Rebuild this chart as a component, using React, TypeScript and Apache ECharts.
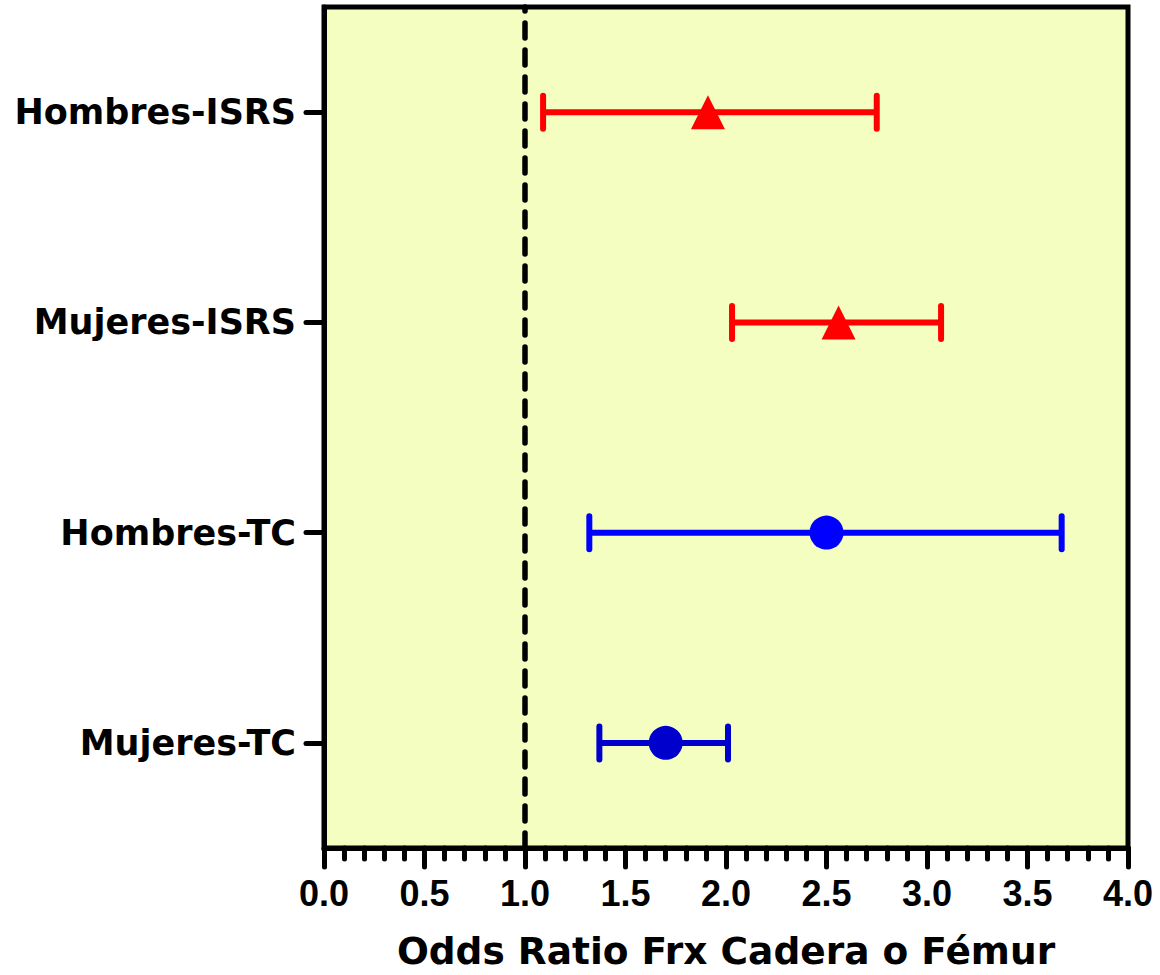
import React, { useEffect, useRef } from "react";
import * as echarts from "echarts";

// Categories from bottom to top (as drawn on the y axis)
const categories = ["Mujeres-TC", "Hombres-TC", "Mujeres-ISRS", "Hombres-ISRS"];
const estimates = [1.70, 2.50, 2.56, 1.91];
const lowerCI = [1.37, 1.32, 2.03, 1.09];
const upperCI = [2.01, 3.67, 3.07, 2.75];
const groupColors = ["#0000CC", "#0000FF", "#FF0000", "#FF0000"];
const groupSymbols = ["circle", "circle", "triangle", "triangle"];
const referenceOR = 1.0;
const xTitle = "Odds Ratio Frx Cadera o Fémur";

export default function App() {
  const ref = useRef<HTMLDivElement>(null);

  useEffect(() => {
    if (!ref.current) return;
    const chart = echarts.init(ref.current, null, { renderer: "svg" });

    const errData = categories.map((_, i) => [i, lowerCI[i], upperCI[i]]);
    const pointData = categories.map((_, i) => ({
      value: [estimates[i], i],
      symbol: groupSymbols[i],
      symbolSize: 34,
      itemStyle: { color: groupColors[i], opacity: 1 },
    }));

    chart.setOption({
      animation: false,
      backgroundColor: "#ffffff",
      grid: {
        left: 324,
        right: 32,
        top: 7,
        bottom: 120,
        show: true,
        backgroundColor: "#F4FEC1",
        borderColor: "#000000",
        borderWidth: 5,
      },
      xAxis: {
        type: "value",
        min: 0,
        max: 4,
        interval: 0.5,
        splitLine: { show: false },
        axisLine: { show: true, onZero: false, lineStyle: { color: "#000", width: 5 } },
        axisTick: { show: true, length: 19, lineStyle: { color: "#000", width: 5, cap: "round" } },
        minorTick: { show: true, splitNumber: 5, length: 11, lineStyle: { color: "#000", width: 5, cap: "round" } },
        axisLabel: {
          margin: 27,
          color: "#000",
          fontFamily: "Liberation Sans",
          fontWeight: "bold",
          fontSize: 36,
          formatter: (v: number) => v.toFixed(1),
        },
        name: xTitle,
        nameLocation: "middle",
        nameGap: 84,
        nameTextStyle: {
          color: "#000",
          fontFamily: "DejaVu Sans",
          fontWeight: "bold",
          fontSize: 37.5,
        },
      },
      yAxis: {
        type: "category",
        data: categories,
        boundaryGap: true,
        splitLine: { show: false },
        axisLine: { show: true, lineStyle: { color: "#000", width: 5 } },
        axisTick: { show: true, alignWithLabel: true, length: 18, lineStyle: { color: "#000", width: 5, cap: "round" } },
        axisLabel: {
          margin: 28,
          color: "#000",
          fontFamily: "DejaVu Sans",
          fontWeight: "bold",
          fontSize: 35,
        },
      },
      series: [
        {
          type: "custom",
          name: "CI",
          encode: { x: [1, 2], y: 0 },
          data: errData,
          z: 3,
          renderItem: (params: any, api: any) => {
            const idx = params.dataIndex;
            const cat = api.value(0);
            const lo = api.coord([api.value(1), cat]);
            const hi = api.coord([api.value(2), cat]);
            const color = groupColors[idx];
            const capH = 16.5;
            const style = { stroke: color, lineWidth: 6, lineCap: "round" };
            return {
              type: "group",
              children: [
                { type: "line", shape: { x1: lo[0], y1: lo[1], x2: hi[0], y2: hi[1] }, style: { stroke: color, lineWidth: 6 } },
                { type: "line", shape: { x1: lo[0], y1: lo[1] - capH, x2: lo[0], y2: lo[1] + capH }, style },
                { type: "line", shape: { x1: hi[0], y1: hi[1] - capH, x2: hi[0], y2: hi[1] + capH }, style },
              ],
            };
          },
        },
        {
          type: "scatter",
          name: "OR",
          data: pointData,
          z: 4,
          markLine: {
            silent: true,
            symbol: "none",
            label: { show: false },
            lineStyle: { type: [15, 12], color: "#000", width: 5.5, cap: "round" },
            data: [{ xAxis: referenceOR }],
            z: 2,
          },
        },
      ],
    });

    return () => chart.dispose();
  }, []);

  return (
    <div
      ref={ref}
      style={{ position: "absolute", left: 0, top: 0, width: 1160, height: 975 }}
    />
  );
}
